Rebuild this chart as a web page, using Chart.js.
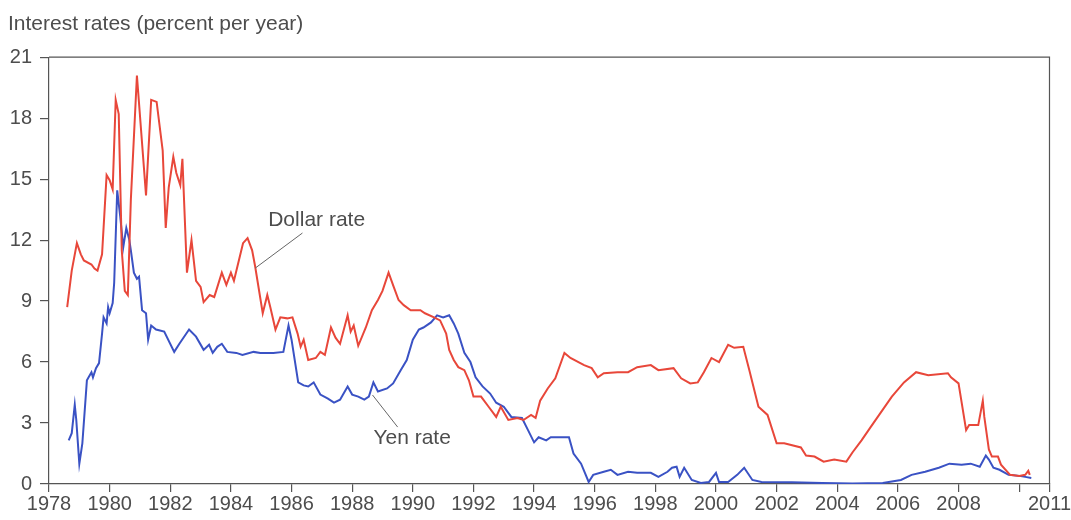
<!DOCTYPE html>
<html>
<head>
<meta charset="utf-8">
<script src="https://cdn.jsdelivr.net/npm/chart.js@4/dist/chart.umd.min.js"></script>
<style>
  html, body { margin: 0; padding: 0; background: #fff; }
  #wrap { width: 1071px; height: 520px; }
</style>
</head>
<body>
<div id="wrap"><canvas id="myChart" width="1071" height="520"></canvas></div>
<script>
// Values (year, percent per year)
const dollarYears = [1978.6, 1978.75, 1978.92, 1979.05, 1979.15, 1979.4, 1979.5, 1979.6, 1979.75, 1979.9,
  1980.0, 1980.1, 1980.2, 1980.3, 1980.4, 1980.5, 1980.6, 1980.7, 1980.9, 1981.2,
  1981.37, 1981.55, 1981.75, 1981.85, 1981.95, 1982.1, 1982.2, 1982.33, 1982.4, 1982.55,
  1982.7, 1982.85, 1983.0, 1983.1, 1983.3, 1983.45, 1983.7, 1983.85, 1984.0, 1984.1,
  1984.4, 1984.55, 1984.7, 1984.8, 1985.05, 1985.2, 1985.3, 1985.47, 1985.63, 1985.86,
  1986.03, 1986.2, 1986.3, 1986.4, 1986.55, 1986.8, 1986.95, 1987.1, 1987.3, 1987.45,
  1987.6, 1987.85, 1987.95, 1988.05, 1988.2, 1988.45, 1988.65, 1988.85, 1989.0, 1989.2,
  1989.37, 1989.53, 1989.7, 1989.93, 1990.25, 1990.4, 1990.7, 1990.9, 1991.1, 1991.2,
  1991.35, 1991.5, 1991.7, 1991.85, 1992.0, 1992.25, 1992.5, 1992.75, 1992.9, 1993.15,
  1993.45, 1993.65, 1993.9, 1994.05, 1994.2, 1994.45, 1994.7, 1995.0, 1995.2, 1995.65,
  1995.9, 1996.1, 1996.3, 1996.75, 1997.1, 1997.4, 1997.85, 1998.1, 1998.6, 1998.85,
  1999.15, 1999.4, 1999.6, 1999.85, 2000.1, 2000.4, 2000.6, 2000.9, 2001.1, 2001.4,
  2001.7, 2002.0, 2002.25, 2002.8, 2002.97, 2003.25, 2003.55, 2003.9, 2004.3, 2004.5,
  2004.8, 2005.1, 2005.8, 2006.2, 2006.6, 2007.0, 2007.65, 2007.75, 2008.0, 2008.25,
  2008.35, 2008.65, 2008.8, 2008.85, 2009.0, 2009.1, 2009.3, 2009.4, 2009.7, 2010.0,
  2010.2, 2010.3, 2010.35];
const dollarRates = [8.7, 10.5, 11.85, 11.3, 11.0, 10.8, 10.6, 10.5, 11.3, 15.2,
  14.95, 14.5, 18.9, 18.2, 11.5, 9.5, 9.3, 14.0, 20.1, 14.2,
  18.9, 18.8, 16.4, 12.6, 14.6, 16.1, 15.3, 14.7, 16.0, 10.4,
  12.0, 10.0, 9.7, 8.95, 9.3, 9.2, 10.4, 9.8, 10.4, 10.0,
  11.85, 12.1, 11.5, 10.7, 8.4, 9.3, 8.7, 7.6, 8.2, 8.15,
  8.2, 7.4, 6.75, 7.1, 6.1, 6.2, 6.5, 6.35, 7.7, 7.2,
  6.9, 8.3, 7.5, 7.8, 6.8, 7.7, 8.55, 9.05, 9.5, 10.4,
  9.7, 9.05, 8.8, 8.55, 8.55, 8.4, 8.2, 8.05, 7.4, 6.6,
  6.1, 5.75, 5.6, 5.1, 4.3, 4.3, 3.8, 3.3, 3.8, 3.15,
  3.25, 3.15, 3.4, 3.25, 4.1, 4.7, 5.2, 6.45, 6.2, 5.85,
  5.7, 5.25, 5.45, 5.5, 5.5, 5.75, 5.85, 5.6, 5.7, 5.2,
  4.95, 5.0, 5.5, 6.2, 6.0, 6.85, 6.7, 6.75, 5.6, 3.8,
  3.4, 2.0, 2.0, 1.8, 1.4, 1.35, 1.1, 1.2, 1.1, 1.55,
  2.15, 2.8, 4.3, 5.0, 5.5, 5.35, 5.45, 5.25, 4.95, 2.65,
  2.9, 2.9, 4.1, 3.3, 1.7, 1.35, 1.35, 0.95, 0.45, 0.4,
  0.45, 0.65, 0.45];

const yenYears = [1978.65, 1978.75, 1978.85, 1978.9, 1979.0, 1979.1, 1979.25, 1979.4, 1979.45, 1979.55,
  1979.65, 1979.75, 1979.8, 1979.9, 1979.95, 1980.0, 1980.1, 1980.15, 1980.25, 1980.35,
  1980.45, 1980.55, 1980.65, 1980.7, 1980.8, 1980.9, 1980.97, 1981.07, 1981.2, 1981.27,
  1981.37, 1981.53, 1981.8, 1982.13, 1982.3, 1982.62, 1982.85, 1983.1, 1983.28, 1983.4,
  1983.55, 1983.7, 1983.88, 1984.18, 1984.38, 1984.75, 1984.97, 1985.4, 1985.73, 1985.9,
  1986.0, 1986.22, 1986.4, 1986.55, 1986.73, 1986.95, 1987.2, 1987.4, 1987.6, 1987.85,
  1988.0, 1988.2, 1988.4, 1988.55, 1988.7, 1988.85, 1989.15, 1989.35, 1989.6, 1989.8,
  1990.0, 1990.2, 1990.35, 1990.6, 1990.8, 1991.0, 1991.2, 1991.35, 1991.5, 1991.7,
  1991.9, 1992.07, 1992.3, 1992.55, 1992.75, 1993.0, 1993.25, 1993.6, 1993.8, 1994.0,
  1994.15, 1994.4, 1994.55, 1994.8, 1995.15, 1995.3, 1995.55, 1995.8, 1995.95, 1996.3,
  1996.53, 1996.75, 1997.1, 1997.4, 1997.85, 1998.1, 1998.4, 1998.55, 1998.7, 1998.8,
  1998.95, 1999.2, 1999.5, 1999.77, 2000.0, 2000.1, 2000.4, 2000.7, 2000.93, 2001.2,
  2001.5, 2002.5, 2003.5, 2004.5, 2005.5, 2006.1, 2006.45, 2006.9, 2007.35, 2007.7,
  2008.1, 2008.4, 2008.7, 2008.9, 2009.0, 2009.15, 2009.35, 2009.65, 2010.0, 2010.2,
  2010.4];
const yenRates = [2.15, 2.5, 3.9, 3.15, 1.0, 2.0, 5.1, 5.5, 5.25, 5.7,
  5.95, 7.4, 8.2, 7.9, 8.7, 8.4, 8.9, 9.9, 14.45, 13.15,
  11.65, 12.6, 12.0, 11.5, 10.4, 10.1, 10.2, 8.55, 8.4, 7.1,
  7.8, 7.6, 7.5, 6.5, 6.9, 7.6, 7.25, 6.6, 6.85, 6.45,
  6.75, 6.9, 6.5, 6.45, 6.35, 6.5, 6.45, 6.45, 6.5, 7.8,
  7.1, 5.0, 4.85, 4.8, 5.0, 4.4, 4.2, 4.0, 4.15, 4.8,
  4.4, 4.3, 4.15, 4.3, 5.0, 4.55, 4.7, 4.95, 5.6, 6.1,
  7.1, 7.6, 7.7, 7.95, 8.3, 8.2, 8.3, 7.9, 7.4, 6.45,
  6.0, 5.25, 4.8, 4.45, 4.0, 3.8, 3.3, 3.25, 2.65, 2.05,
  2.3, 2.15, 2.3, 2.3, 2.3, 1.5, 1.0, 0.1, 0.45, 0.6,
  0.7, 0.45, 0.6, 0.55, 0.55, 0.35, 0.6, 0.8, 0.85, 0.35,
  0.8, 0.2, 0.05, 0.1, 0.55, 0.1, 0.1, 0.45, 0.8, 0.2,
  0.1, 0.08, 0.05, 0.03, 0.05, 0.2, 0.45, 0.6, 0.8, 1.0,
  0.95, 1.0, 0.85, 1.4, 1.2, 0.8, 0.7, 0.45, 0.4, 0.35,
  0.3];

const xTickValues = [1978, 1980, 1982, 1984, 1986, 1988, 1990, 1992, 1994, 1996, 1998,
  2000, 2002, 2004, 2006, 2008, 2010, 2011];
const xTickLabels = ['1978', '1980', '1982', '1984', '1986', '1988', '1990', '1992', '1994', '1996', '1998',
  '2000', '2002', '2004', '2006', '2008', '', '2011'];

// Callout labels: text, text anchor (year, rate), leader line from / to (year, rate)
const calloutTexts = ['Dollar rate', 'Yen rate'];
const calloutAnchors = [[1985.23, 12.99], [1988.7, 2.26]];
const calloutLines = [[[1986.36, 12.35], [1984.8, 10.62]], [[1989.5, 2.8], [1988.67, 4.38]]];

const textColor = '#4d4d4d';
const fontFamily = '"Liberation Sans", Arial, Helvetica, sans-serif';

function toPoints(xs, ys) {
  return xs.map((x, i) => ({ x: x, y: ys[i] }));
}

// frame on top and right of the plot, plus the two callouts
const extras = {
  id: 'extras',
  afterDatasetsDraw(chart) {
    const ctx = chart.ctx;
    const a = chart.chartArea;
    const xs = chart.scales.x;
    const ys = chart.scales.y;
    ctx.save();
    ctx.strokeStyle = '#555';
    ctx.lineWidth = 1.2;
    ctx.beginPath();
    ctx.moveTo(a.left, a.top);
    ctx.lineTo(a.right, a.top);
    ctx.lineTo(a.right, a.bottom);
    ctx.stroke();

    ctx.font = '21px ' + fontFamily;
    ctx.fillStyle = textColor;
    ctx.textAlign = 'left';
    ctx.textBaseline = 'middle';
    calloutTexts.forEach((t, i) => {
      ctx.fillText(t, xs.getPixelForValue(calloutAnchors[i][0]), ys.getPixelForValue(calloutAnchors[i][1]));
      const ln = calloutLines[i];
      ctx.strokeStyle = '#666';
      ctx.lineWidth = 1;
      ctx.beginPath();
      ctx.moveTo(xs.getPixelForValue(ln[0][0]), ys.getPixelForValue(ln[0][1]));
      ctx.lineTo(xs.getPixelForValue(ln[1][0]), ys.getPixelForValue(ln[1][1]));
      ctx.stroke();
    });
    ctx.restore();
  }
};

const ctx = document.getElementById('myChart').getContext('2d');
window.myChart = new Chart(ctx, {
  type: 'line',
  data: {
    datasets: [{
      label: 'Dollar rate',
      data: toPoints(dollarYears, dollarRates),
      borderColor: '#e8473a',
      borderWidth: 2,
      pointRadius: 0,
      tension: 0,
      fill: false
    }, {
      label: 'Yen rate',
      data: toPoints(yenYears, yenRates),
      borderColor: '#3a52c4',
      borderWidth: 2,
      pointRadius: 0,
      tension: 0,
      fill: false
    }]
  },
  plugins: [extras],
  options: {
    responsive: false,
    animation: false,
    layout: { padding: { left: 8, right: 0, top: 0, bottom: 0 } },
    plugins: {
      legend: { display: false },
      tooltip: { enabled: false },
      title: {
        display: true,
        text: 'Interest rates (percent per year)',
        align: 'start',
        color: textColor,
        font: { family: fontFamily, size: 21, weight: 'normal' },
        padding: { top: 12, bottom: 20 }
      }
    },
    scales: {
      x: {
        type: 'linear',
        min: 1978,
        max: 2011,
        afterBuildTicks: (scale) => { scale.ticks = xTickValues.map(v => ({ value: v })); },
        afterFit: (scale) => { scale.height = 36; },
        ticks: {
          autoSkip: false,
          maxRotation: 0,
          color: textColor,
          font: { family: fontFamily, size: 20 },
          padding: 0,
          callback: (v) => xTickLabels[xTickValues.indexOf(v)]
        },
        grid: { drawOnChartArea: false, tickLength: 8, color: '#555', lineWidth: 1.2 },
        border: { color: '#555', width: 1.2 }
      },
      y: {
        min: 0,
        max: 21,
        afterFit: (scale) => { scale.width = 41; },
        ticks: {
          stepSize: 3,
          color: textColor,
          font: { family: fontFamily, size: 20 },
          padding: 8
        },
        grid: { drawOnChartArea: false, tickLength: 9, color: '#555', lineWidth: 1.2 },
        border: { color: '#555', width: 1.2 }
      }
    }
  }
});
</script>
</body>
</html>
